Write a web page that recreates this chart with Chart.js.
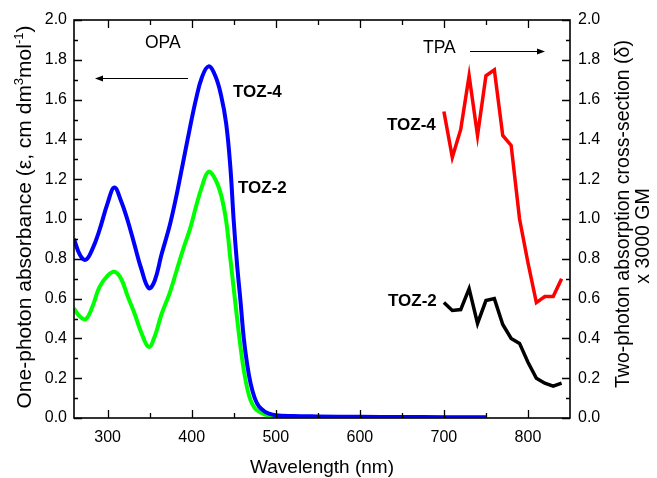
<!DOCTYPE html>
<html>
<head>
<meta charset="utf-8">
<title>OPA / TPA spectra</title>
<script src="https://cdn.jsdelivr.net/npm/chart.js@4.4.1/dist/chart.umd.min.js"></script>
<style>
  html, body { margin: 0; padding: 0; background: #fff; }
  #wrap { width: 657px; height: 478px; }
</style>
</head>
<body>
<div id="wrap"><canvas id="chart" width="657" height="478"></canvas></div>
<script>
// --- data ---
// one-photon absorption (left axis)
const opaWavelength = [260, 267, 274, 282, 290, 300, 308, 316, 324, 332, 340, 349, 356, 364, 374, 382, 390, 398, 405, 412, 420, 428, 435, 441, 446, 450, 454, 458, 462, 466, 470, 475, 480, 486, 492, 500, 520, 550, 600, 650, 700, 750];
const opaToz4 = [0.90, 0.82, 0.795, 0.85, 0.94, 1.08, 1.158, 1.09, 0.99, 0.87, 0.75, 0.652, 0.69, 0.82, 0.97, 1.12, 1.29, 1.46, 1.60, 1.71, 1.767, 1.72, 1.62, 1.48, 1.26, 0.99, 0.77, 0.59, 0.40, 0.27, 0.175, 0.10, 0.058, 0.035, 0.022, 0.014, 0.010, 0.008, 0.006, 0.005, 0.004, 0.004];
const opaToz2 = [0.55, 0.51, 0.497, 0.56, 0.655, 0.715, 0.735, 0.70, 0.61, 0.525, 0.43, 0.357, 0.41, 0.52, 0.63, 0.74, 0.85, 0.95, 1.06, 1.16, 1.238, 1.20, 1.12, 0.99, 0.80, 0.65, 0.50, 0.36, 0.24, 0.15, 0.09, 0.05, 0.032, 0.02, 0.012, 0.007, 0.004, 0.003, 0.002, 0.002, 0.001, 0.001];

// two-photon absorption (right axis, x 3000 GM)
const tpaWavelength = [700, 710, 720, 730, 740, 750, 760, 770, 780, 790, 800, 810, 820, 830, 840];
const tpaToz4 = [1.54, 1.31, 1.45, 1.72, 1.42, 1.72, 1.75, 1.42, 1.37, 1.00, 0.78, 0.58, 0.61, 0.61, 0.70];
const tpaToz2 = [0.58, 0.54, 0.545, 0.65, 0.475, 0.59, 0.60, 0.47, 0.40, 0.375, 0.28, 0.20, 0.175, 0.16, 0.175];

// axes
const xTicks = [300, 400, 500, 600, 700, 800];
const xMinorTicks = [350, 450, 550, 650, 750];
const yTicks = [0, 0.2, 0.4, 0.6, 0.8, 1.0, 1.2, 1.4, 1.6, 1.8, 2.0];
const yMinorTicks = [0.1, 0.3, 0.5, 0.7, 0.9, 1.1, 1.3, 1.5, 1.7, 1.9];

const FONT = '"Liberation Sans", Arial, Helvetica, sans-serif';

const toPoints = (xs, ys) => xs.map((x, i) => ({ x: x, y: ys[i] }));

// frame, inward ticks, titles and labels
const decorations = {
    id: 'decorations',
    afterDraw(chart) {
        const { ctx, chartArea: a, scales } = chart;
        const x = scales.x, y = scales.y, y2 = scales.y2;
        ctx.save();
        ctx.strokeStyle = '#000';
        ctx.fillStyle = '#000';

        // ticks
        ctx.lineWidth = 1.3;
        ctx.beginPath();
        const xTick = (v, len) => {
            const px = Math.round(x.getPixelForValue(v)) + 0.5;
            ctx.moveTo(px, a.bottom); ctx.lineTo(px, a.bottom - len);
            ctx.moveTo(px, a.top); ctx.lineTo(px, a.top + len);
        };
        xTicks.forEach(v => xTick(v, 8));
        xMinorTicks.forEach(v => xTick(v, 5));
        const yTick = (v, len) => {
            const py = Math.round(y.getPixelForValue(v)) + 0.5;
            ctx.moveTo(a.left, py); ctx.lineTo(a.left + len, py);
            const py2 = Math.round(y2.getPixelForValue(v)) + 0.5;
            ctx.moveTo(a.right, py2); ctx.lineTo(a.right - len, py2);
        };
        yTicks.forEach(v => yTick(v, 8));
        yMinorTicks.forEach(v => yTick(v, 4));
        ctx.stroke();

        // frame
        ctx.lineWidth = 1.6;
        ctx.strokeRect(a.left, a.top, a.right - a.left, a.bottom - a.top);

        // x title
        ctx.font = `19px ${FONT}`;
        ctx.textAlign = 'center';
        ctx.textBaseline = 'alphabetic';
        ctx.fillText('Wavelength (nm)', 322, 473);

        // left title with superscripts, rotated
        const big = `21px ${FONT}`, small = `13px ${FONT}`;
        const parts = [
            ['One-photon absorbance (\u03b5, cm dm', big, 0],
            ['3', small, -8],
            ['mol', big, 0],
            ['-1', small, -8],
            [')', big, 0]
        ];
        let total = 0;
        parts.forEach(p => { ctx.font = p[1]; total += ctx.measureText(p[0]).width; });
        ctx.save();
        ctx.translate(31, 217);
        ctx.rotate(-Math.PI / 2);
        ctx.textAlign = 'left';
        let cx = -total / 2;
        parts.forEach(p => {
            ctx.font = p[1];
            ctx.fillText(p[0], cx, p[2]);
            cx += ctx.measureText(p[0]).width;
        });
        ctx.restore();

        // right title, two lines
        ctx.save();
        ctx.font = `19.5px ${FONT}`;
        ctx.textAlign = 'center';
        ctx.translate(629, 214);
        ctx.rotate(-Math.PI / 2);
        ctx.fillText('Two-photon absorption cross-section (\u03b4)', 0, 0);
        ctx.restore();
        ctx.save();
        ctx.font = `19.5px ${FONT}`;
        ctx.textAlign = 'center';
        ctx.translate(649, 236);
        ctx.rotate(-Math.PI / 2);
        ctx.fillText('x 3000 GM', 0, 0);
        ctx.restore();

        // OPA / TPA labels with arrows
        ctx.textAlign = 'left';
        ctx.font = `17.5px ${FONT}`;
        ctx.fillText('OPA', 145, 48);
        ctx.fillText('TPA', 423, 53);

        const arrow = (x0, x1, yy) => {
            ctx.lineWidth = 1;
            ctx.beginPath();
            ctx.moveTo(x0, yy); ctx.lineTo(x1 + (x1 < x0 ? 6 : -6), yy);
            ctx.stroke();
            const d = x1 < x0 ? 1 : -1;
            ctx.beginPath();
            ctx.moveTo(x1, yy);
            ctx.lineTo(x1 + d * 8, yy - 3);
            ctx.lineTo(x1 + d * 8, yy + 3);
            ctx.closePath();
            ctx.fill();
        };
        arrow(188, 95, 78.5);
        arrow(470, 545, 51.5);

        // series labels
        ctx.font = `bold 17px ${FONT}`;
        ctx.fillText('TOZ-4', 233, 96.5);
        ctx.fillText('TOZ-2', 238, 193);
        ctx.fillText('TOZ-4', 387, 130);
        ctx.fillText('TOZ-2', 388, 305.5);

        ctx.restore();
    }
};

const tickFont = { family: FONT, size: 16 };

new Chart(document.getElementById('chart'), {
    type: 'line',
    data: {
        datasets: [
            {
                label: 'TOZ-4 OPA', data: toPoints(opaWavelength, opaToz4), yAxisID: 'y',
                borderColor: '#0000ff', borderWidth: 4, pointRadius: 0,
                tension: 0.4, order: 0
            },
            {
                label: 'TOZ-2 OPA', data: toPoints(opaWavelength, opaToz2), yAxisID: 'y',
                borderColor: '#00ff00', borderWidth: 4, pointRadius: 0,
                tension: 0.4, order: 1
            },
            {
                label: 'TOZ-4 TPA', data: toPoints(tpaWavelength, tpaToz4), yAxisID: 'y2',
                borderColor: '#ff0000', borderWidth: 3.5, pointRadius: 0, tension: 0, order: 2
            },
            {
                label: 'TOZ-2 TPA', data: toPoints(tpaWavelength, tpaToz2), yAxisID: 'y2',
                borderColor: '#000000', borderWidth: 3.5, pointRadius: 0, tension: 0, order: 3
            }
        ]
    },
    options: {
        responsive: false,
        animation: false,
        devicePixelRatio: 1,
        layout: { padding: { top: 20, left: 0, right: 0, bottom: 0 } },
        plugins: { legend: { display: false }, tooltip: { enabled: false } },
        scales: {
            x: {
                type: 'linear', min: 260, max: 850,
                afterBuildTicks: s => { s.ticks = xTicks.map(v => ({ value: v })); },
                afterFit: s => { s.height = 60; },
                grid: { display: false, drawTicks: false },
                border: { display: false },
                ticks: { color: '#000', font: tickFont, padding: 10, maxRotation: 0 }
            },
            y: {
                position: 'left', min: 0, max: 2,
                afterBuildTicks: s => { s.ticks = yTicks.map(v => ({ value: v })); },
                afterFit: s => { s.width = 74; },
                grid: { display: false, drawTicks: false },
                border: { display: false },
                ticks: { color: '#000', font: tickFont, padding: 7, callback: v => v.toFixed(1) }
            },
            y2: {
                position: 'right', min: 0, max: 2,
                afterBuildTicks: s => { s.ticks = yTicks.map(v => ({ value: v })); },
                afterFit: s => { s.width = 87; },
                grid: { display: false, drawTicks: false },
                border: { display: false },
                ticks: { color: '#000', font: tickFont, padding: 8, callback: v => v.toFixed(1) }
            }
        }
    },
    plugins: [decorations]
});
</script>
</body>
</html>
